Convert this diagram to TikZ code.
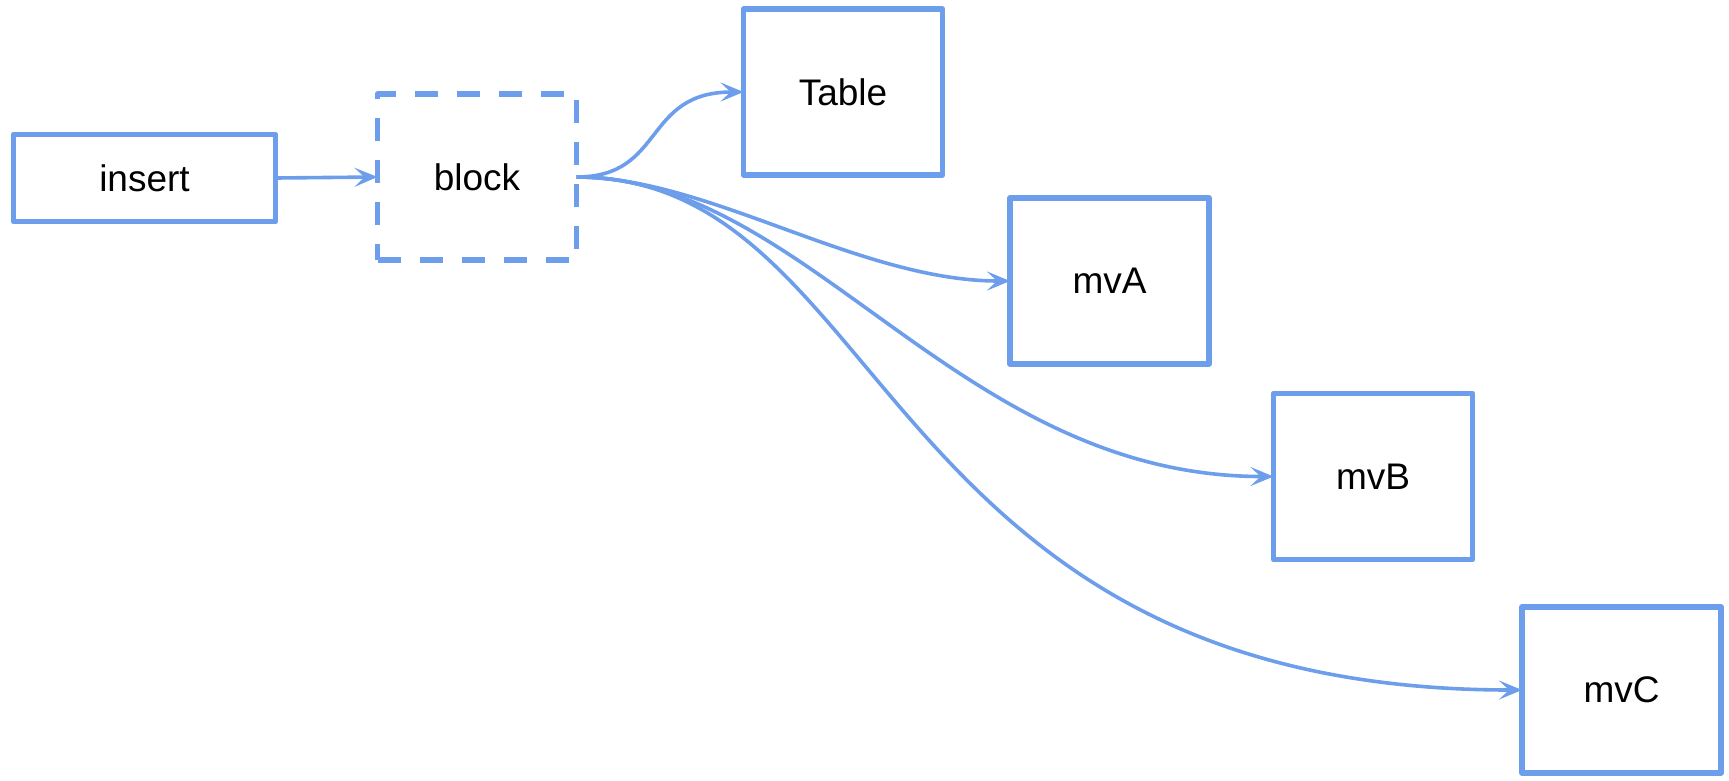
\documentclass[tikz,border=0pt]{standalone}
\usepackage{fontspec}
\setmainfont{Liberation Sans}
\usetikzlibrary{arrows.meta}
\definecolor{gblue}{HTML}{6D9EEB}
\tikzset{
  box/.style={draw=gblue, line width=5.5pt, line join=round, minimum width=199pt, minimum height=166pt,
    inner sep=0pt, outer sep=0pt, font=\fontsize{37}{40}\selectfont, text=black},
  dashbox/.style={box, dash pattern=on 23pt off 19pt},
  conn/.style={draw=gblue, line width=3.6pt, -{Stealth[length=23pt,width=19pt,inset=10pt]}}
}
\begin{document}
\begin{tikzpicture}[x=1pt,y=-1pt]
\useasboundingbox (0,0) rectangle (1729,780);
\node[box, minimum width=262pt, minimum height=87pt] (insert) at (144.5,178) {insert};
\node[dashbox] (block) at (477,177) {block};
\node[box] (table) at (843,92) {Table};
\node[box] (mvA) at (1109.5,281) {mvA};
\node[box] (mvB) at (1373,476.5) {mvB};
\node[box] (mvC) at (1621.5,690) {mvC};
\draw[conn] (insert.east) -- (block.west);
\draw[conn] (block.east) to[out=0,in=180,out distance=89pt,in distance=101pt] (table.west);
\draw[conn] (block.east) to[out=0,in=180,out distance=132pt,in distance=151pt] (mvA.west);
\draw[conn] (block.east) to[out=0,in=180,out distance=231pt,in distance=315pt] (mvB.west);
\draw[conn] (block.east) to[out=0,in=180,out distance=315pt,in distance=648pt] (mvC.west);
\end{tikzpicture}
\end{document}
